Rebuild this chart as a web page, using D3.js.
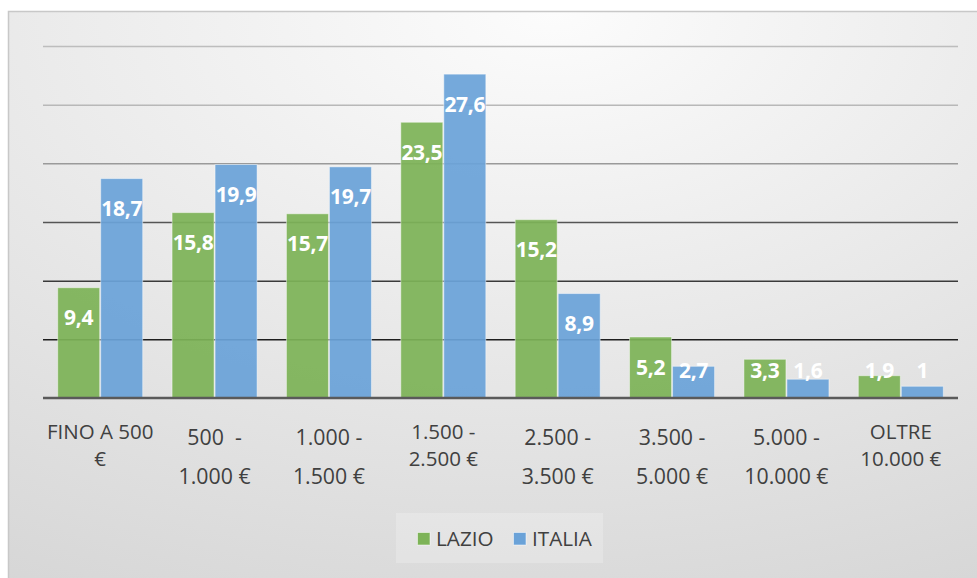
<!DOCTYPE html>
<html>
<head>
<meta charset="utf-8">
<script src="https://cdn.jsdelivr.net/npm/d3@7"></script>
<style>
  html, body { margin: 0; padding: 0; background: #ffffff; }
  svg { display: block; font-family: "Open Sans", "DejaVu Sans", sans-serif; }
</style>
</head>
<body>
<svg id="chart" width="977" height="578"></svg>
<script>
// Income brackets; "\n" marks an explicit line break, otherwise labels wrap to fit
const categories = [
  "FINO A 500 €",
  "500  -\n1.000 €",
  "1.000 -\n1.500 €",
  "1.500 - 2.500 €",
  "2.500 -\n3.500 €",
  "3.500 -\n5.000 €",
  "5.000 -\n10.000 €",
  "OLTRE 10.000 €"
];
const seriesNames = ["LAZIO", "ITALIA"];
const lazio  = [9.4, 15.8, 15.7, 23.5, 15.2, 5.2, 3.3, 1.9];
const italia = [18.7, 19.9, 19.7, 27.6, 8.9, 2.7, 1.6, 1];
const yTicks = [0, 5, 10, 15, 20, 25, 30];

const colors = { LAZIO: "#7db357", ITALIA: "#6aa2d8" };
const gridColors = d3.scaleLinear().domain([5, 10, 15, 20, 25, 30])
  .range(["#1e1e1e", "#3a3a3a", "#555555", "#9a9a9a", "#b8b8b8", "#bdbdbd"]);

const svg = d3.select("#chart");
const defs = svg.append("defs");
const bg = defs.append("radialGradient").attr("id", "bgGrad")
  .attr("cx", "50%").attr("cy", "0%").attr("r", "110%")
  .attr("fx", "55%").attr("fy", "0%");
bg.append("stop").attr("offset", "0%").attr("stop-color", "#fcfcfc");
bg.append("stop").attr("offset", "100%").attr("stop-color", "#d6d6d6");

// Chart area frame
svg.append("rect")
  .attr("x", 8.5).attr("y", 11.5).attr("width", 990).attr("height", 590)
  .attr("fill", "url(#bgGrad)").attr("stroke", "#c8c8c8").attr("stroke-width", 1.5);

const plot = { left: 43, right: 958, top: 46, bottom: 398 };

const y = d3.scaleLinear().domain([0, 30]).range([plot.bottom, plot.top]);
const x0 = d3.scaleBand().domain(categories)
  .range([plot.left, plot.right]).paddingInner(0.248).paddingOuter(0.124);
const x1 = d3.scaleBand().domain(seriesNames).range([0, x0.bandwidth()]);

// Gridlines
const yAxis = d3.axisLeft(y).tickValues(yTicks.filter(t => t > 0))
  .tickSize(-(plot.right - plot.left)).tickFormat("");
const gGrid = svg.append("g").attr("transform", `translate(${plot.left},0)`).call(yAxis);
gGrid.select(".domain").remove();
gGrid.selectAll(".tick line")
  .attr("stroke", d => gridColors(d)).attr("stroke-width", 1.5);

// Bars
const rows = categories.map((c, i) => ({ cat: c, LAZIO: lazio[i], ITALIA: italia[i] }));
const groups = svg.append("g").selectAll("g").data(rows).join("g")
  .attr("transform", d => `translate(${x0(d.cat)},0)`);

groups.selectAll("rect")
  .data(d => seriesNames.map(s => ({ s, v: d[s] })))
  .join("rect")
  .attr("x", d => x1(d.s) + 0.5)
  .attr("width", x1.bandwidth() - 1)
  .attr("y", d => y(d.v))
  .attr("height", d => y(0) - y(d.v))
  .attr("fill", d => colors[d.s])
  .attr("fill-opacity", 0.93)
  .attr("stroke", "rgba(255,255,255,0.45)")
  .attr("stroke-width", 1);

// Value labels, inside the end of each bar
groups.selectAll("text")
  .data(d => seriesNames.map(s => ({ s, v: d[s] })))
  .join("text")
  .attr("x", d => x1(d.s) + x1.bandwidth() / 2)
  .attr("y", d => Math.min(y(d.v) + 30, y(0) - 28))
  .attr("dy", "0.36em")
  .attr("text-anchor", "middle")
  .attr("fill", "#ffffff")
  .attr("font-weight", 700)
  .attr("font-size", 21)
  .attr("letter-spacing", -0.3)
  .text(d => d3.format(",")(d.v).replace(".", ","));

// Baseline
const xAxis = d3.axisBottom(x0).tickSize(0).tickFormat("");
const gX = svg.append("g").attr("transform", `translate(0,${plot.bottom})`).call(xAxis);
gX.select(".domain").attr("stroke", "#5a5a5a").attr("stroke-width", 2.5)
  .attr("d", `M${plot.left},0H${plot.right}`);

// Category labels
const maxW = 112;
const labels = svg.append("g").attr("fill", "#404040");
categories.forEach(cat => {
  const cx = x0(cat) + x0.bandwidth() / 2;
  if (cat.includes("\n")) {
    const lines = cat.split("\n");
    const t = labels.append("text").attr("text-anchor", "middle")
      .attr("font-size", 21.3).style("white-space", "pre");
    lines.forEach((ln, i) => {
      t.append("tspan").attr("x", cx).attr("y", 437 + i * 39).attr("dy", "0.36em").text(ln);
    });
  } else {
    const t = labels.append("text").attr("text-anchor", "middle").attr("font-size", 20.5);
    const words = cat.split(" ");
    const lines = [];
    let cur = [];
    const probe = t.append("tspan");
    words.forEach(w => {
      const trial = cur.concat([w]).join(" ");
      probe.text(trial);
      if (probe.node().getComputedTextLength() > maxW && cur.length) {
        lines.push(cur.join(" "));
        cur = [w];
      } else {
        cur.push(w);
      }
    });
    lines.push(cur.join(" "));
    probe.remove();
    lines.forEach((ln, i) => {
      t.append("tspan").attr("x", cx).attr("y", 432 + i * 27).attr("dy", "0.36em").text(ln);
    });
  }
});

// Legend
const legend = svg.append("g");
legend.append("rect").attr("x", 396).attr("y", 513).attr("width", 207).attr("height", 50)
  .attr("fill", "rgba(255,255,255,0.22)");
const legendX = [417, 513];
seriesNames.forEach((s, i) => {
  legend.append("rect").attr("x", legendX[i] + 0.5).attr("y", 532.5)
    .attr("width", 12.5).attr("height", 12.5)
    .attr("fill", colors[s]).attr("stroke", "rgba(255,255,255,0.5)");
  legend.append("text").attr("x", legendX[i] + 19).attr("y", 539).attr("dy", "0.36em")
    .attr("font-size", 20.7).attr("fill", "#404040").text(s);
});
</script>
</body>
</html>
